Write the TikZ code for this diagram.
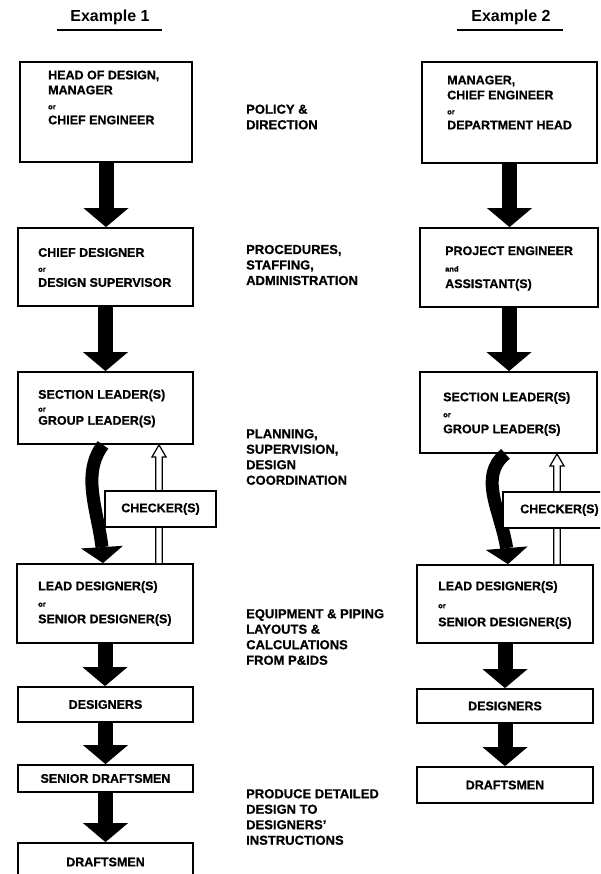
\documentclass[tikz,border=0pt]{standalone}
\usepackage{fontspec}
\setmainfont{Liberation Sans}[FakeBold=0.7]
\newfontfamily\titlefont{Liberation Sans}
\usetikzlibrary{arrows.meta,bending,calc}
% small connective words between the role names
\newcommand{\conj}[1]{{\fontsize{7.5}{15}\selectfont #1}}

\begin{document}
\begin{tikzpicture}[x=1pt,y=-1pt,
  box/.style={draw, line width=1.8pt, fill=white, inner sep=0pt},
  boxtext/.style={anchor=west, align=left, inner sep=0pt,
                  font=\bfseries\fontsize{12.5}{15}\selectfont},
  single/.style={font=\bfseries\fontsize{12.5}{15}\selectfont},
  sidetext/.style={anchor=west, align=left, inner sep=0pt,
                   font=\bfseries\fontsize{13}{15.5}\selectfont},
  title/.style={anchor=base, inner sep=0pt, font=\titlefont\bfseries\fontsize{16}{18}\selectfont},
  down/.style={line width=15pt, -{Triangle[width=45pt,length=19pt,line width=0pt]}},
  bent/.style={line width=13pt, -{Triangle[width=42pt,length=16pt,line width=0pt,flex]}},
  hollow/.style={draw, fill=white, line width=1.2pt, line join=miter}]

\useasboundingbox (0,0) rectangle (600,874);
\clip (0,0) rectangle (600,874);

% ---------- titles ----------
\node[title] (t1) at (110,22) {Example 1};
\draw[line width=1.2pt] (57,30) -- (162,30);
\node[title] (t2) at (511,22) {Example 2};
\draw[line width=1.2pt] (457,30) -- (563,30);

% ---------- Example 1 ----------
\node[box, minimum width=172pt, minimum height=100pt] (b1) at (106,112) {};
\node[box, minimum width=175pt, minimum height=78pt]  (b2) at (105.5,267) {};
\node[box, minimum width=175pt, minimum height=72pt]  (b3) at (105.5,408) {};
\node[box, minimum width=176pt, minimum height=79pt]  (b4) at (105,603.5) {};
\node[box, single, minimum width=175pt, minimum height=35pt] (b5) at (105.5,704.5) {DESIGNERS};
\node[box, single, minimum width=175pt, minimum height=27pt] (b6) at (105.5,778.5) {SENIOR DRAFTSMEN};
\node[box, minimum width=175pt, minimum height=57pt]  (b7) at (105.5,871.5) {};

\node[boxtext] (b1t) at (48,97.5) {HEAD OF DESIGN,\\MANAGER\\\conj{or}\\CHIEF ENGINEER};
\node[boxtext] (b2t) at (38,267.5) {CHIEF DESIGNER\\\conj{or}\\DESIGN SUPERVISOR};
\node[boxtext, font=\bfseries\fontsize{12.5}{13}\selectfont] (b3t) at (38,408.5) {SECTION LEADER(S)\\\conj{or}\\GROUP LEADER(S)};
\node[boxtext, font=\bfseries\fontsize{12.5}{16.5}\selectfont] (b4t) at (38,603.5) {LEAD DESIGNER(S)\\\conj{or}\\SENIOR DESIGNER(S)};
\node[single, inner sep=0pt] (b7t) at (105.5,862) {DRAFTSMEN};

\draw[down] (b1.south) -- (b1.south |- b2.north);
\draw[down] (b2.south) -- (b2.south |- b3.north);
\draw[down] (b4.south) -- (b4.south |- b5.north);
\draw[down] (b5.south) -- (b5.south |- b6.north);
\draw[down] (b6.south) -- (b6.south |- b7.north);

\draw[bent] ([xshift=-2.5pt]b3.south) .. controls (78,478) and (103,520) .. ([xshift=-2pt]b4.north);

\coordinate (h1x) at (159,0);
\draw[hollow] ($(h1x |- b4.north)+(-3.2,0)$) -- ($(h1x |- b3.south)+(-3.2,12)$) -- ++(-3.8,0)
  -- (h1x |- b3.south) -- ($(h1x |- b3.south)+(7,12)$) -- ++(-3.8,0)
  -- ($(h1x |- b4.north)+(3.2,0)$);
\node[box, single, minimum width=111pt, minimum height=36pt] (c1) at (160.5,509) {CHECKER(S)};

% ---------- Example 2 ----------
\node[box, minimum width=175pt, minimum height=101pt] (r1) at (509.5,112.5) {};
\node[box, minimum width=178pt, minimum height=79pt]  (r2) at (509,267.5) {};
\node[box, minimum width=177pt, minimum height=81pt]  (r3) at (508.5,412.5) {};
\node[box, minimum width=176pt, minimum height=78pt]  (r4) at (505,604) {};
\node[box, single, minimum width=176pt, minimum height=34pt] (r5) at (505,706) {DESIGNERS};
\node[box, single, minimum width=176pt, minimum height=36pt] (r6) at (505,785) {DRAFTSMEN};

\node[boxtext] (r1t) at (447,102.5) {MANAGER,\\CHIEF ENGINEER\\\conj{or}\\DEPARTMENT HEAD};
\node[boxtext, font=\bfseries\fontsize{12.5}{16.5}\selectfont] (r2t) at (445,268.5) {PROJECT ENGINEER\\\conj{and}\\ASSISTANT(S)};
\node[boxtext, font=\bfseries\fontsize{12.5}{16}\selectfont] (r3t) at (443,414) {SECTION LEADER(S)\\\conj{or}\\GROUP LEADER(S)};
\node[boxtext, font=\bfseries\fontsize{12.5}{18}\selectfont] (r4t) at (438,605) {LEAD DESIGNER(S)\\\conj{or}\\SENIOR DESIGNER(S)};

\draw[down] (r1.south) -- (r1.south |- r2.north);
\draw[down] (r2.south) -- (r2.south |- r3.north);
\draw[down] (r4.south) -- (r4.south |- r5.north);
\draw[down] (r5.south) -- (r5.south |- r6.north);

\draw[bent] ([xshift=-3pt]r3.south) .. controls (474,480) and (508,520) .. ([xshift=3pt]r4.north);

\coordinate (h2x) at (557,0);
\draw[hollow] ($(h2x |- r4.north)+(-3.2,0)$) -- ($(h2x |- r3.south)+(-3.2,12)$) -- ++(-3.8,0)
  -- (h2x |- r3.south) -- ($(h2x |- r3.south)+(7,12)$) -- ++(-3.8,0)
  -- ($(h2x |- r4.north)+(3.2,0)$);
\node[box, minimum width=107pt, minimum height=36pt] (c2) at (556.5,510) {};
\node[single, anchor=west, inner sep=0pt] (c2t) at (520,510) {CHECKER(S)};

% ---------- level descriptions ----------
\node[sidetext] (s1) at (246,117) {POLICY \&\\DIRECTION};
\node[sidetext] (s2) at (246,265) {PROCEDURES,\\STAFFING,\\ADMINISTRATION};
\node[sidetext] (s3) at (246,457) {PLANNING,\\SUPERVISION,\\DESIGN\\COORDINATION};
\node[sidetext] (s4) at (246,637) {EQUIPMENT \& PIPING\\LAYOUTS \&\\CALCULATIONS\\FROM P\&IDS};
\node[sidetext] (s5) at (246,817) {PRODUCE DETAILED\\DESIGN TO\\DESIGNERS'\\INSTRUCTIONS};

\end{tikzpicture}
\end{document}
